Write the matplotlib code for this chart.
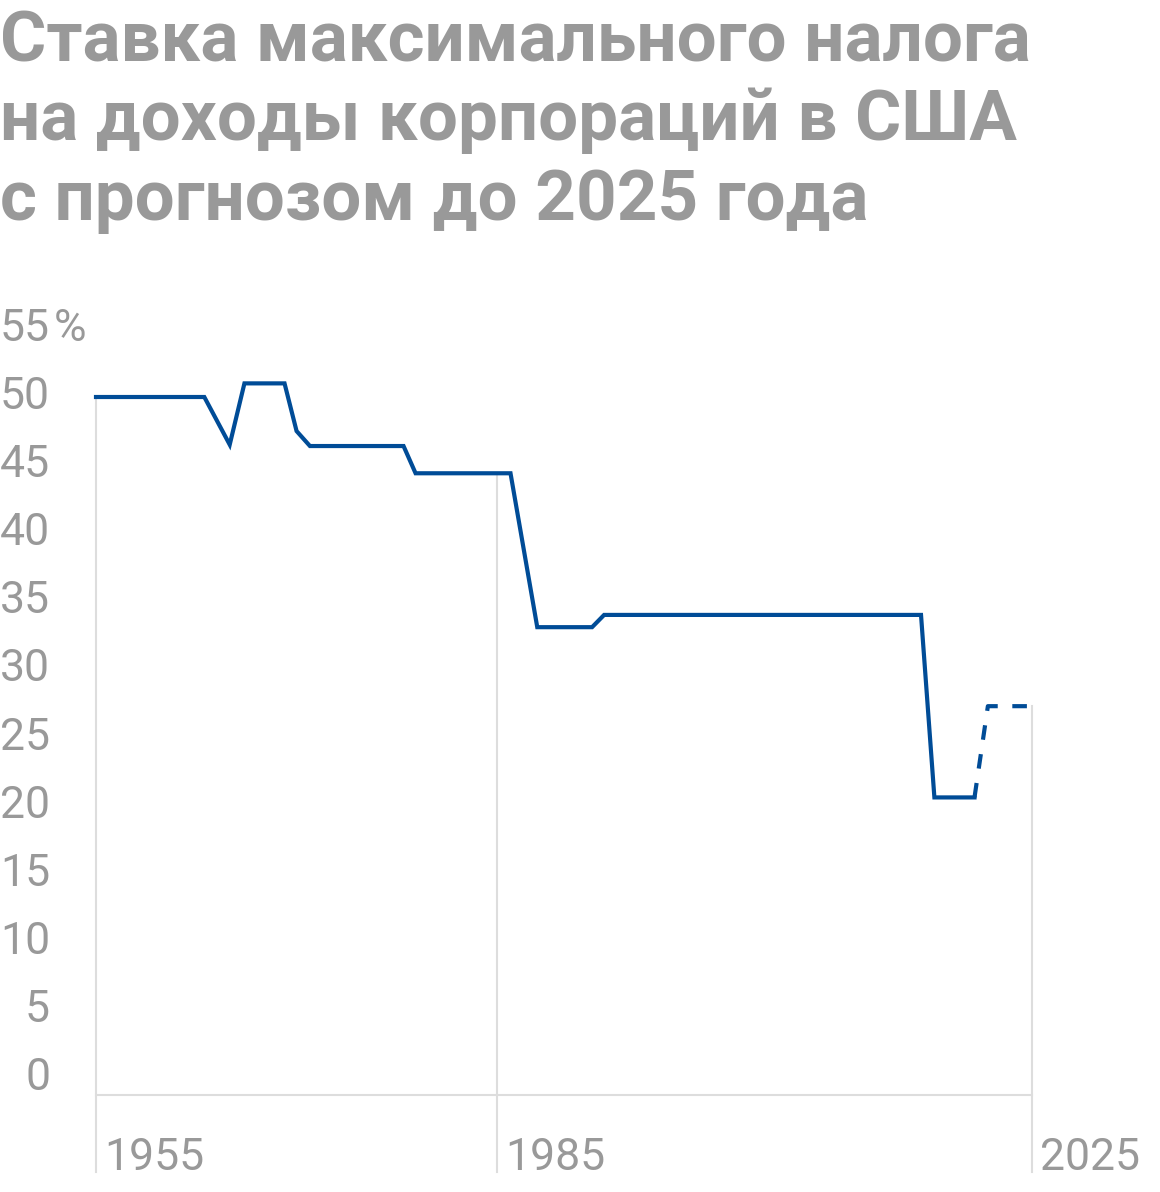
import matplotlib.pyplot as plt

# данные: ставка налога на прибыль корпораций, %
years = [1955, 1963.1, 1965, 1966.1, 1969.1, 1970, 1971, 1978, 1978.9, 1986,
         1988, 1992.1, 1993, 2016.7, 2017.7, 2020.7]
rates = [50, 50, 46.5, 51, 51, 47.5, 46.4, 46.4, 44.4, 44.4,
         33.1, 33.1, 34.0, 34.0, 20.6, 20.6]

# прогноз (пунктир)
fc_years = [2020.7, 2021.7, 2025]
fc_rates = [20.6, 27.3, 27.3]

y_ticks = [0, 5, 10, 15, 20, 25, 30, 35, 40, 45, 50, 55]
x_ticks = [1955, 1985, 2025]

title_lines = ['Ставка максимального налога',
               'на доходы корпораций в США',
               'с прогнозом до 2025 года']

GRAY = '#999999'
LINE_GRAY = '#dddddd'
BLUE = '#004c97'

W, H = 1160, 1192
fig = plt.figure(figsize=(W / 100, H / 100), dpi=100)
ax = fig.add_axes([0, 0, 1, 1])
ax.axis('off')

# масштаб: 1955 -> 96px, 2025 -> 1032px, 0 -> 1078px, 50 -> 397px
px_year = (1032 - 96) / 70
px_unit = (1078 - 397) / 50
ax.set_xlim(1955 - 96 / px_year, 2025 + (W - 1032) / px_year)
ax.set_ylim(-(H - 1078) / px_unit, 50 + 397 / px_unit)

y_base = -1.25
y_bottom = -6.9

# базовая линия
ax.plot([x_ticks[0], x_ticks[-1]], [y_base, y_base], color=LINE_GRAY, lw=1.5, zorder=1)

# вертикальные линии от значения вниз
def value_at(x):
    allx = years + fc_years[1:]
    ally = rates + fc_rates[1:]
    for i in range(len(allx) - 1):
        if allx[i] <= x <= allx[i + 1]:
            t = (x - allx[i]) / (allx[i + 1] - allx[i])
            return ally[i] + t * (ally[i + 1] - ally[i])
    return ally[-1]

for xt in x_ticks:
    ax.plot([xt, xt], [value_at(xt), y_bottom], color=LINE_GRAY, lw=1.5, zorder=1)
    ax.text(xt + 0.6, y_bottom + 0.15, str(xt), ha='left', va='baseline',
            fontsize=32, color=GRAY, family='Roboto')

ax.plot(years, rates, color=BLUE, lw=3, solid_joinstyle='miter', zorder=3)
ax.plot(fc_years, fc_rates, color=BLUE, lw=3, dashes=(3.5, 3.5), zorder=3)

x_lab = 1955 - (96 - 50) / px_year
for v in y_ticks:
    ax.text(x_lab, v, str(v), ha='right', va='center', fontsize=32,
            color=GRAY, family='Roboto')
ax.annotate('%', (x_lab, 55), xytext=(3, 0), textcoords='offset points',
            ha='left', va='center', fontsize=32, color=GRAY, family='Roboto')

for i, line in enumerate(title_lines):
    fig.text(0, 1 - (61 + 79.5 * i) / H, line, ha='left', va='baseline',
             fontsize=51, fontweight='bold', color=GRAY, family='Roboto')

fig.savefig('out.png', dpi=100)
